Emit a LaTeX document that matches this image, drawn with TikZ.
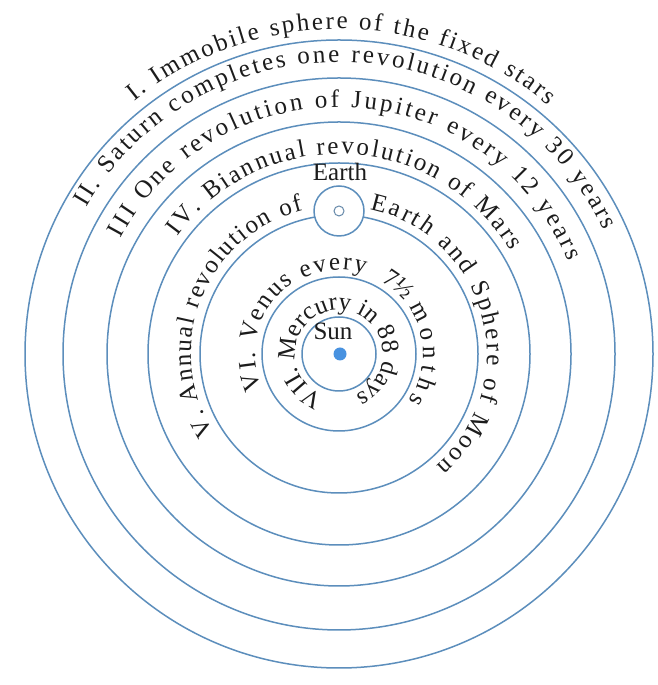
\documentclass[tikz,border=0pt]{standalone}
\usepackage{fontspec}
\setmainfont{Liberation Serif}
\usetikzlibrary{decorations.text}
\definecolor{ringblue}{RGB}{92,142,188}
\definecolor{sunblue}{RGB}{72,146,224}
\definecolor{inkgray}{RGB}{28,28,28}
\newcommand{\ringfont}{\fontsize{25}{29}\selectfont}
\newcommand{\ringtext}[4]{%
  \path[decorate,decoration={text along path,text align=fit to path,
        text color=inkgray,text={|\ringfont|#4}}]
    ({339+#1*cos(#2)},{331+#1*sin(#2)}) arc[start angle=#2,end angle=#3,radius=#1pt];}
\begin{document}
\begin{tikzpicture}[x=1pt,y=1pt,
  ring/.style={draw=ringblue,line width=1.5pt},
  label/.style={font=\ringfont,text=inkgray,inner sep=0pt}]
\useasboundingbox (0,0) rectangle (657,685);
\fill[white] (0,0) rectangle (657,685);
\coordinate (C) at (339,331);
% orbits
\draw[ring] (C) circle[radius=37pt];
\draw[ring] (C) circle[radius=77pt];
\draw[ring] (C) circle[radius=139pt];
\draw[ring] (C) circle[radius=191pt];
\draw[ring] (C) circle[radius=232pt];
\draw[ring] (C) circle[radius=276pt];
\draw[ring] (C) circle[radius=314pt];
% Earth
\node[circle,draw=ringblue,fill=white,line width=1.5pt,minimum size=50pt,inner sep=0pt] (earth) at (339,474) {};
\node[circle,draw=ringblue!70!gray,line width=1pt,minimum size=10pt,inner sep=0pt] (moon) at (earth) {};
\node[label] (earthlabel) at (340,513) {Earth};
% Sun
\node[circle,fill=sunblue,minimum size=13pt,inner sep=0pt] (sun) at (340,331) {};
\node[label] (sunlabel) at (333,354) {Sun};
% curved texts
\ringtext{325}{129}{50}{I. Immobile sphere of the fixed stars}
\ringtext{292}{150}{25}{II. Saturn completes one revolution every 30 years}
\ringtext{247}{152}{22}{III One revolution of Jupiter every 12 years}
\ringtext{200}{144}{31}{IV. Biannual revolution of Mars}
\ringtext{148}{212}{104}{V. Annual revolution of}
\ringtext{148}{78}{-49}{Earth and Sphere of Moon}
\ringtext{84}{204}{72}{VI. Venus every}
\ringtext{84}{60}{41}{7½}
\ringtext{84}{34}{-34}{months}
\ringtext{44}{250}{-68}{VII. Mercury in 88 days}
\end{tikzpicture}
\end{document}
